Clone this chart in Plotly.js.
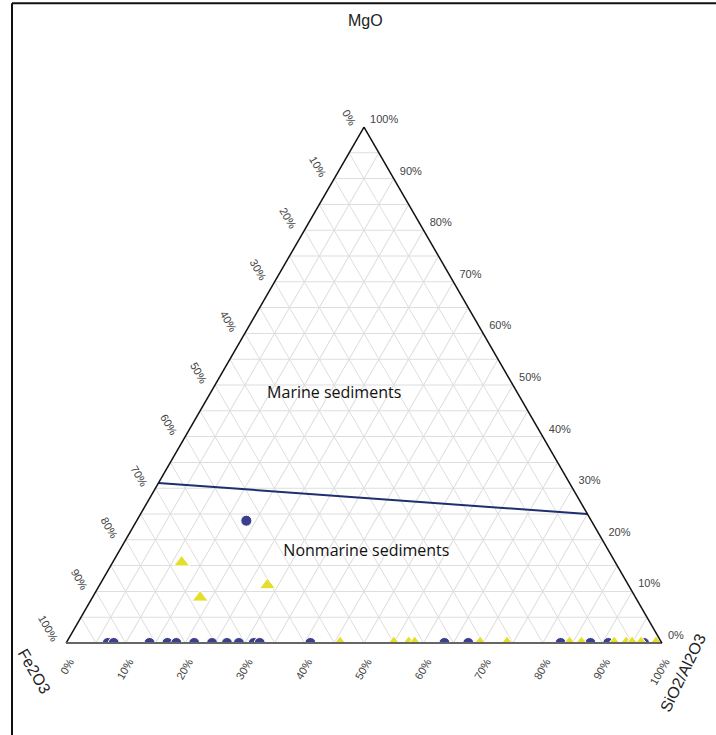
<!DOCTYPE html>
<html>
<head>
<meta charset="utf-8">
<script src="https://cdn.plot.ly/plotly-3.0.1.min.js"></script>
<style>
  html, body { margin: 0; padding: 0; background: #fff; }
  #chart { width: 716px; height: 735px; }
</style>
</head>
<body>
<div id="chart"></div>
<script>
// Sample compositions (%). MgO is the top apex, Fe2O3 the left apex,
// SiO2/Al2O3 the right apex.
const blueMgO   = [23.7, 0, 0, 0, 0, 0, 0, 0, 0, 0, 0, 0, 0, 0, 0, 0, 0, 0, 0];
const blueFe2O3 = [57.9, 93, 92, 86, 83, 81.5, 78.5, 75.5, 73, 71, 68.5, 67.5, 59, 36.5, 32.5, 17, 12, 9, 3];
const blueSiO2  = [18.4, 7, 8, 14, 17, 18.5, 21.5, 24.5, 27, 29, 31.5, 32.5, 41, 63.5, 67.5, 83, 88, 91, 97];

const yellowMgO   = [15.6, 8.8, 11.2, 0, 0, 0, 0, 0, 0, 0, 0, 0, 0, 0, 0, 0];
const yellowFe2O3 = [72.8, 73.1, 60.6, 54, 45, 42.5, 41.5, 30.5, 26, 15.5, 13.5, 8, 6, 5, 3.5, 1];
const yellowSiO2  = [11.6, 18.1, 28.2, 46, 55, 57.5, 58.5, 69.5, 74, 84.5, 86.5, 92, 94, 95, 96.5, 99];

// Marine / nonmarine boundary
const boundaryMgO   = [31, 25];
const boundaryFe2O3 = [69, 0];
const boundarySiO2  = [0, 75];

// Field labels
const fieldNames = ['Marine sediments', 'Nonmarine sediments'];
const fieldMgO   = [48.2, 17.6];
const fieldFe2O3 = [30.9, 40.8];
const fieldSiO2  = [20.9, 41.6];

// Axis tick values every 5 %, labelled every 10 %.
const tickVals = [];
for (let v = 0; v <= 100; v += 5) tickVals.push(v);
// Each edge is labelled with the component that grows along it (counter-clockwise reading).
const edgeText = tickVals.map(v => (v % 10 === 0 ? (100 - v) + '%' : ''));

const traces = [
  {
    type: 'scatterternary', mode: 'lines',
    a: boundaryMgO, b: boundaryFe2O3, c: boundarySiO2,
    line: { color: '#1e2f6e', width: 2 },
    hoverinfo: 'skip', showlegend: false
  },
  {
    type: 'scatterternary', mode: 'markers',
    a: blueMgO, b: blueFe2O3, c: blueSiO2,
    marker: { symbol: 'circle', size: 11, color: '#3a3f8e', line: { color: '#ffffff', width: 1 } },
    showlegend: false
  },
  {
    type: 'scatterternary', mode: 'markers',
    a: yellowMgO, b: yellowFe2O3, c: yellowSiO2,
    marker: { symbol: 'triangle-up', size: 14, color: '#e5df2c', line: { color: '#ffffff', width: 1 } },
    showlegend: false
  },
  {
    type: 'scatterternary', mode: 'text',
    a: fieldMgO, b: fieldFe2O3, c: fieldSiO2,
    text: fieldNames,
    textfont: { family: 'Open Sans, sans-serif', size: 16, color: '#111' },
    cliponaxis: false, hoverinfo: 'skip', showlegend: false
  }
];

const axisCommon = {
  tickmode: 'array',
  tickvals: tickVals,
  ticktext: edgeText,
  ticks: 'outside',
  ticklen: 7,
  tickcolor: 'rgba(0,0,0,0)',
  color: '#444',
  showgrid: true,
  gridcolor: '#dedede',
  gridwidth: 1,
  linecolor: '#111',
  linewidth: 1.5,
  tickfont: { family: 'Liberation Sans, Arial, sans-serif', size: 11, color: '#444' },
  title: { text: '' }
};

const titleFont = { family: 'Liberation Sans, Arial, sans-serif', size: 16, color: '#222' };

const layout = {
  width: 716,
  height: 735,
  margin: { l: 66, r: 54, t: 127, b: 92 },
  paper_bgcolor: '#ffffff',
  showlegend: false,
  ternary: {
    sum: 100,
    bgcolor: '#ffffff',
    aaxis: Object.assign({}, axisCommon, { tickangle: 60 }),
    baxis: Object.assign({}, axisCommon, { tickangle: -60, linecolor: '#666', linewidth: 2 }),
    caxis: Object.assign({}, axisCommon, { tickangle: 0 })
  },
  annotations: [
    { text: 'MgO', xref: 'paper', yref: 'paper', x: 0.503, y: 1.207,
      xanchor: 'center', yanchor: 'middle', showarrow: false, font: titleFont },
    { text: 'Fe2O3', xref: 'paper', yref: 'paper', x: -0.0537, y: -0.0562,
      xanchor: 'center', yanchor: 'middle', showarrow: false, textangle: 60, font: titleFont },
    { text: 'SiO2/Al2O3', xref: 'paper', yref: 'paper', x: 1.036, y: -0.058,
      xanchor: 'center', yanchor: 'middle', showarrow: false, textangle: -64, font: titleFont }
  ],
  shapes: [
    { type: 'line', xref: 'paper', yref: 'paper', x0: -0.0906, x1: 1.2, y0: 1.24, y1: 1.24,
      line: { color: '#111', width: 2 } },
    { type: 'line', xref: 'paper', yref: 'paper', x0: -0.0906, x1: -0.0906, y0: 1.24, y1: -0.3,
      line: { color: '#111', width: 2 } }
  ]
};

Plotly.newPlot('chart', traces, layout, { displayModeBar: false, staticPlot: true });
</script>
</body>
</html>
